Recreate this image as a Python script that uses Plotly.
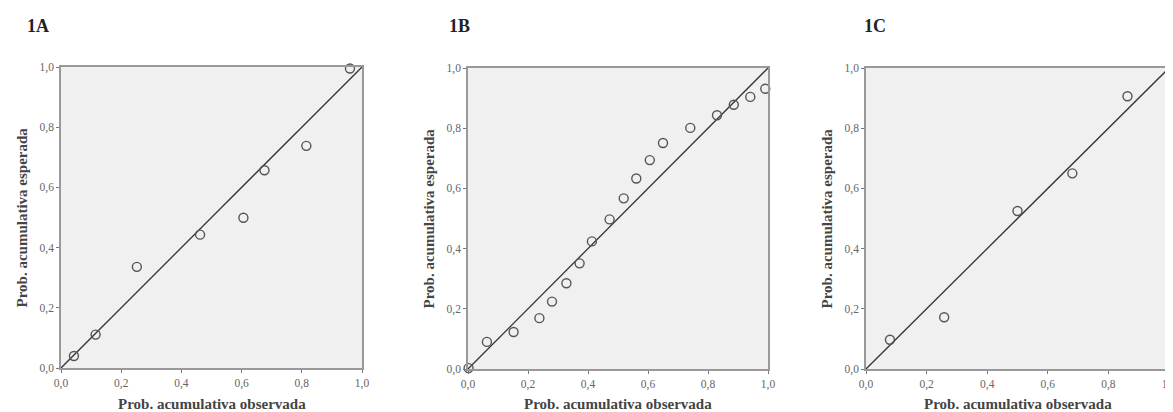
import plotly.graph_objects as go

# ---- data ----
panel_labels = ["1A", "1B", "1C"]
x_title = "Prob. acumulativa observada"
y_title = "Prob. acumulativa esperada"
tick_vals = [0.0, 0.2, 0.4, 0.6, 0.8, 1.0]
tick_text = ["0,0", "0,2", "0,4", "0,6", "0,8", "1,0"]

obs_1a = [0.043, 0.115, 0.252, 0.462, 0.606, 0.676, 0.815, 0.960]
exp_1a = [0.040, 0.111, 0.336, 0.443, 0.499, 0.657, 0.738, 0.995]

obs_1b = [0.002, 0.063, 0.152, 0.238, 0.280, 0.328, 0.372, 0.413, 0.472, 0.519,
          0.561, 0.606, 0.650, 0.741, 0.830, 0.886, 0.941, 0.991]
exp_1b = [0.003, 0.090, 0.123, 0.169, 0.224, 0.285, 0.351, 0.424, 0.497, 0.567,
          0.633, 0.694, 0.751, 0.801, 0.843, 0.878, 0.904, 0.931]

obs_1c = [0.079, 0.258, 0.500, 0.681, 0.863]
exp_1c = [0.097, 0.172, 0.525, 0.650, 0.906]

ref_line = [0.0, 1.0]

panels = [(obs_1a, exp_1a), (obs_1b, exp_1b), (obs_1c, exp_1c)]

W, H = 1173, 412
OFF = 8  # page body margin: figure pixel = page pixel - OFF
# plot boxes in page pixels (left, right, top, bottom)
boxes = [(61, 362, 67, 368), (468, 768, 68, 369), (866, 1169, 68, 369)]
title_x = [25, 447, 862]


def px(v):
    return (v - OFF) / W


def py(v):
    return 1 - (v - OFF) / H


serif = "Liberation Serif, Times New Roman, serif"
fig = go.Figure()
annotations = []
layout_axes = {}

for i, ((xs, ys), (l, r, t, b)) in enumerate(zip(panels, boxes)):
    n = "" if i == 0 else str(i + 1)
    xa, ya = "x" + n, "y" + n
    fig.add_trace(go.Scatter(x=ref_line, y=ref_line, mode="lines",
                             line=dict(color="#333333", width=1.3),
                             xaxis=xa, yaxis=ya, showlegend=False, hoverinfo="skip"))
    fig.add_trace(go.Scatter(x=xs, y=ys, mode="markers",
                             marker=dict(symbol="circle-open", size=9, color="#555555",
                                         line=dict(width=1.4, color="#555555")),
                             xaxis=xa, yaxis=ya, showlegend=False, cliponaxis=False))
    common = dict(range=[0, 1.0], tickvals=tick_vals, ticktext=tick_text,
                  ticks="outside", ticklen=3, tickcolor="#777777",
                  showline=True, linecolor="#999999", linewidth=1.5, mirror=True,
                  showgrid=False, zeroline=False, automargin=False,
                  tickfont=dict(family=serif, size=11.5, color="#666666"), fixedrange=True)
    layout_axes["xaxis" + n] = dict(common, domain=[px(l), px(r)], anchor=ya)
    layout_axes["yaxis" + n] = dict(common, domain=[py(b), py(t)], anchor=xa)

    annotations.append(dict(text="<b>%s</b>" % panel_labels[i], xref="paper", yref="paper",
                            x=px(title_x[i]), y=py(26), xanchor="left", yanchor="middle",
                            showarrow=False, font=dict(family=serif, size=18, color="#222222")))
    annotations.append(dict(text="<b>%s</b>" % x_title, xref="paper", yref="paper",
                            x=px((l + r) / 2), y=py(404), xanchor="center", yanchor="middle",
                            showarrow=False, font=dict(family=serif, size=15, color="#444444")))
    annotations.append(dict(text="<b>%s</b>" % y_title, xref="paper", yref="paper",
                            x=px(l - 40), y=py((t + b) / 2), xanchor="center", yanchor="middle",
                            textangle=-90, showarrow=False,
                            font=dict(family=serif, size=15, color="#444444")))

fig.update_layout(width=W, height=H, margin=dict(l=0, r=0, t=0, b=0),
                  paper_bgcolor="white", plot_bgcolor="#f0f0f0",
                  annotations=annotations, **layout_axes)

fig.write_html("out.html")
